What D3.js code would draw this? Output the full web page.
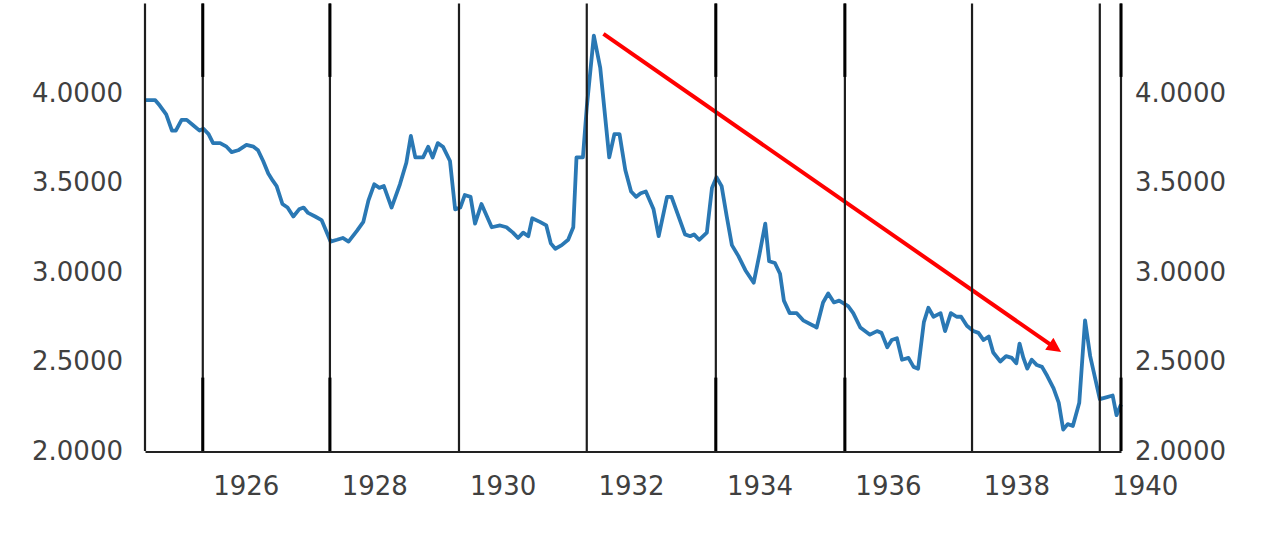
<!DOCTYPE html>
<html>
<head>
<meta charset="utf-8">
<script src="https://cdn.jsdelivr.net/npm/d3@7"></script>
<style>
  html, body { margin: 0; padding: 0; background: #ffffff; }
  svg { display: block; }
</style>
</head>
<body>
<svg id="chart" width="1267" height="556"></svg>
<script>
// ---- data (fractional year, value) ----
const years = [
  1924.43,1924.51,1924.59,1924.66,1924.76,1924.85,1924.91,1925.00,1925.08,1925.18,1925.28,1925.34,1925.42,1925.49,1925.60,1925.70,1925.78,1925.88,
  1926.01,1926.12,1926.19,1926.27,1926.35,1926.42,1926.48,1926.57,1926.65,1926.74,1926.83,1926.90,1926.97,
  1927.08,1927.18,1927.32,1927.42,1927.51,1927.60,1927.73,1927.83,1927.91,
  1928.00,1928.08,1928.15,1928.27,1928.40,1928.50,1928.57,1928.64,1928.76,1928.84,1928.91,1928.99,
  1929.07,1929.18,1929.26,1929.34,1929.41,1929.50,1929.57,1929.67,1929.83,1929.96,
  1930.06,1930.16,1930.24,1930.32,1930.40,1930.46,1930.58,1930.68,1930.75,1930.82,1930.92,
  1931.02,1931.10,1931.15,1931.25,1931.31,1931.42,1931.52,1931.66,1931.74,1931.82,1931.91,
  1932.00,1932.08,1932.15,1932.23,1932.35,1932.43,1932.56,1932.63,1932.84,1932.92,1932.98,
  1933.06,1933.18,1933.26,1933.33,1933.41,1933.49,1933.57,1933.67,1933.78,1933.91,
  1934.00,1934.09,1934.15,1934.24,1934.32,1934.38,1934.47,1934.58,1934.68,1934.84,1934.89,1934.99,
  1935.07,1935.16,1935.24,1935.38,1935.46,1935.57,1935.72,1935.83,1935.90,1935.99,
  1936.06,1936.14,1936.22,1936.32,1936.40,1936.47,1936.56,1936.63,1936.71,1936.82,1936.89,1936.98,
  1937.07,1937.14,1937.23,1937.33,1937.41,1937.49,1937.57,1937.64,1937.75,1937.84,1937.93,
  1938.00,1938.05,1938.11,1938.17,1938.24,1938.32,1938.40,1938.48,1938.58,1938.66,1938.73,1938.80,1938.88,1938.98,
  1939.07,1939.15,1939.30,1939.40,1939.50,1939.56,1939.63
];
const values = [
  3.96,3.96,3.96,3.93,3.88,3.79,3.79,3.85,3.85,3.82,3.79,3.80,3.77,3.72,3.72,3.70,3.67,3.68,
  3.71,3.70,3.68,3.62,3.55,3.51,3.48,3.38,3.36,3.31,3.35,3.36,3.33,
  3.31,3.29,3.17,3.18,3.19,3.17,3.23,3.28,3.40,
  3.49,3.47,3.48,3.36,3.49,3.61,3.76,3.64,3.64,3.70,3.64,3.72,
  3.70,3.62,3.35,3.36,3.43,3.42,3.27,3.38,3.25,3.26,
  3.25,3.22,3.19,3.22,3.20,3.30,3.28,3.26,3.16,3.13,3.15,
  3.18,3.25,3.64,3.64,3.92,4.32,4.14,3.64,3.77,3.77,3.57,
  3.45,3.42,3.44,3.45,3.35,3.20,3.42,3.42,3.21,3.20,3.21,
  3.18,3.22,3.47,3.53,3.48,3.31,3.15,3.09,3.01,2.94,
  3.10,3.27,3.06,3.05,2.99,2.84,2.77,2.77,2.73,2.70,2.69,2.83,
  2.88,2.83,2.84,2.81,2.77,2.69,2.65,2.67,2.66,2.58,
  2.62,2.63,2.51,2.52,2.47,2.46,2.72,2.80,2.75,2.77,2.67,2.77,
  2.75,2.75,2.70,2.67,2.66,2.62,2.64,2.55,2.50,2.53,2.52,
  2.49,2.60,2.52,2.46,2.51,2.48,2.47,2.42,2.35,2.27,2.12,2.15,2.14,2.27,
  2.73,2.53,2.29,2.30,2.31,2.20,2.26
];
const yTicks = [2.0, 2.5, 3.0, 3.5, 4.0];
const xTickYears = [1926, 1928, 1930, 1932, 1934, 1936, 1938, 1940];
const gridYears = [1925.33, 1927.31, 1929.32, 1931.31, 1933.32, 1935.33, 1937.31, 1939.30];
const heavyGridYears = [1925.33, 1927.31, 1933.32, 1935.33, 1939.63];
const arrowFrom = [1931.57, 4.33];
const arrowTo = [1938.55, 2.59];

// ---- layout ----
const svg = d3.select("#chart");
const x = d3.scaleLinear().domain([1924.43, 1939.63]).range([145, 1121]);
const y = d3.scaleLinear().domain([2, 4.5]).range([451, 3.5]);
const FONT = "'DejaVu Sans', Verdana, sans-serif";

svg.append("rect").attr("width", 1267).attr("height", 556).attr("fill", "#fff");

const data = years.map((t, i) => ({ t, v: values[i] }));

// blue series
svg.append("path")
  .datum(data)
  .attr("fill", "none")
  .attr("stroke", "#2a78b4")
  .attr("stroke-width", 3.8)
  .attr("stroke-linejoin", "round")
  .attr("d", d3.line().x(d => x(d.t)).y(d => y(d.v)));

// arrow
const defs = svg.append("defs");
defs.append("marker")
  .attr("id", "arrowhead")
  .attr("viewBox", "0 0 10 10")
  .attr("refX", 2).attr("refY", 5)
  .attr("markerWidth", 4.2).attr("markerHeight", 3.6)
  .attr("markerUnits", "strokeWidth")
  .attr("orient", "auto")
  .append("path").attr("d", "M0,0 L10,5 L0,10 Z").attr("fill", "#ff0000");

svg.append("line")
  .attr("x1", x(arrowFrom[0])).attr("y1", y(arrowFrom[1]))
  .attr("x2", x(arrowTo[0])).attr("y2", y(arrowTo[1]))
  .attr("stroke", "#ff0000").attr("stroke-width", 4)
  .attr("marker-end", "url(#arrowhead)");

// vertical gridlines (thin, full height)
const vlines = [x.domain()[0], ...gridYears, x.domain()[1]];
svg.append("g").selectAll("line").data(vlines).join("line")
  .attr("x1", d => x(d)).attr("x2", d => x(d))
  .attr("y1", y(4.5)).attr("y2", y(2))
  .attr("stroke", "#1e1e1e").attr("stroke-width", 2.2);

// heavy segments at top and bottom
const segs = [];
heavyGridYears.forEach(g => { segs.push([g, 4.5, 4.09]); segs.push([g, 2.41, 2.0]); });
svg.append("g").selectAll("line").data(segs).join("line")
  .attr("x1", d => x(d[0])).attr("x2", d => x(d[0]))
  .attr("y1", d => y(d[1])).attr("y2", d => y(d[2]))
  .attr("stroke", "#000").attr("stroke-width", 3);

// axes
const fmt = d3.format(".4f");
const yl = svg.append("g").attr("transform", `translate(${x.range()[0]},0)`)
  .call(d3.axisLeft(y).tickValues(yTicks).tickFormat(fmt).tickSize(0).tickPadding(22));
const yr = svg.append("g").attr("transform", `translate(${x.range()[1]},0)`)
  .call(d3.axisRight(y).tickValues(yTicks).tickFormat(fmt).tickSize(0).tickPadding(14));
const xa = svg.append("g").attr("transform", `translate(0,${y(2) + 0.5})`)
  .call(d3.axisBottom(x).tickValues(xTickYears).tickFormat(d => String(d)).tickSize(0).tickSizeOuter(0).tickPadding(25));

[yl, yr].forEach(g => g.select(".domain").remove());
xa.select(".domain").attr("stroke", "#222").attr("stroke-width", 2.2);
[yl, yr, xa].forEach(g => g.selectAll("text")
  .attr("font-family", FONT).attr("font-size", 26).attr("fill", "#404040"));
</script>
</body>
</html>
